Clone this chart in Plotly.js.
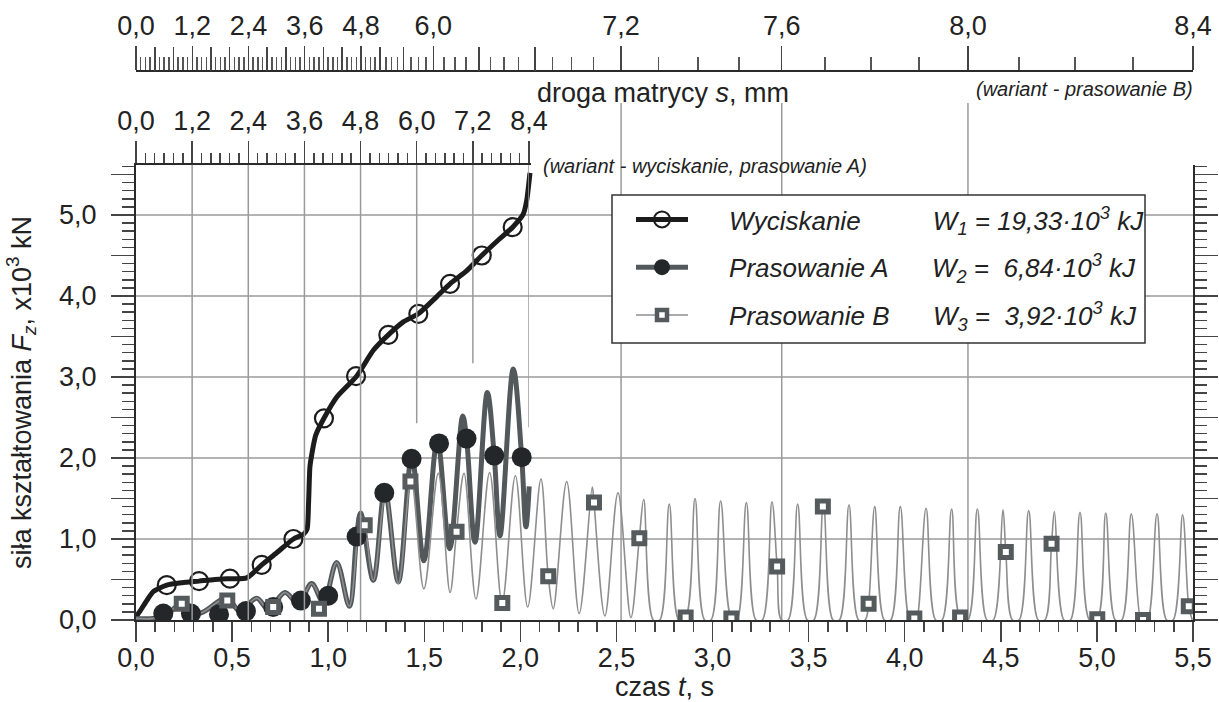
<!DOCTYPE html>
<html>
<head>
<meta charset="utf-8">
<script src="https://cdn.plot.ly/plotly-3.0.1.min.js"></script>
<style>html,body{margin:0;padding:0;background:#fff;}#chart{width:1219px;height:702px;}</style>
</head>
<body>
<div id="chart"></div>
<script>
// ---------------- DATA ----------------
// Wyciskanie – force curve (time s, force x10^3 kN)
const T_WYC = [0, 0.021, 0.056, 0.09, 0.16, 0.24, 0.328, 0.41, 0.489, 0.576, 0.654, 0.732, 0.819, 0.872, 0.890, 0.898, 0.905, 0.915, 0.935, 0.978, 1.044, 1.148, 1.235, 1.313, 1.391, 1.469, 1.564, 1.634, 1.72, 1.799, 1.894, 1.96, 2.015, 2.033, 2.05];
const F_WYC = [0.04, 0.11, 0.24, 0.35, 0.43, 0.46, 0.48, 0.50, 0.51, 0.52, 0.68, 0.83, 1.00, 1.06, 1.12, 1.45, 1.89, 2.05, 2.28, 2.49, 2.75, 3.01, 3.33, 3.52, 3.68, 3.78, 3.99, 4.15, 4.31, 4.50, 4.71, 4.85, 5.01, 5.18, 5.52];
const T_WYC_MARK = [0.16, 0.328, 0.489, 0.654, 0.819, 0.978, 1.145, 1.313, 1.469, 1.634, 1.799, 1.96];
const F_WYC_MARK = [0.43, 0.48, 0.51, 0.68, 1.00, 2.49, 3.01, 3.52, 3.78, 4.15, 4.50, 4.85];

// Prasowanie A
const T_A = [0, 0.09, 0.17, 0.246, 0.324, 0.472, 0.541, 0.628, 0.689, 0.775, 0.845, 0.914, 0.975, 1.044, 1.110, 1.148, 1.169, 1.235, 1.295, 1.365, 1.435, 1.498, 1.568, 1.632, 1.700, 1.720, 1.764, 1.828, 1.864, 1.894, 1.963, 2.007, 2.029, 2.046];
const F_A = [0.02, 0.02, 0.09, 0.22, 0.08, 0.27, 0.11, 0.27, 0.13, 0.34, 0.20, 0.45, 0.22, 0.71, 0.17, 1.03, 1.32, 0.49, 1.60, 0.47, 2.02, 0.73, 2.22, 0.88, 2.52, 2.24, 0.96, 2.81, 2.03, 1.04, 3.10, 2.01, 1.15, 1.65];
const T_A_MARK = [0.142, 0.286, 0.432, 0.572, 0.714, 0.858, 1.0, 1.148, 1.292, 1.434, 1.577, 1.72, 1.864, 2.007];
const F_A_MARK = [0.08, 0.08, 0.07, 0.11, 0.16, 0.24, 0.30, 1.03, 1.57, 1.99, 2.18, 2.24, 2.03, 2.01];

// Prasowanie B
const T_B = [0, 0.09, 0.17, 0.246, 0.324, 0.472, 0.541, 0.628, 0.689, 0.775, 0.845, 0.914, 0.975, 1.044, 1.110, 1.169, 1.19, 1.235, 1.299, 1.365, 1.432, 1.498, 1.573, 1.634, 1.668, 1.707, 1.769, 1.840, 1.905, 1.974, 2.038, 2.107, 2.145, 2.171, 2.241, 2.306, 2.374, 2.383, 2.44, 2.508, 2.575, 2.619,
  2.642, 2.692, 2.725, 2.775, 2.825, 2.86, 2.909, 2.959, 2.992, 3.042, 3.098, 3.126, 3.176, 3.226, 3.259, 3.309, 3.336, 3.359, 3.393, 3.443, 3.493, 3.527, 3.577, 3.627, 3.660, 3.710, 3.760, 3.794, 3.812, 3.844, 3.894, 3.927, 3.977, 4.027, 4.05, 4.061, 4.111, 4.161, 4.194, 4.244, 4.288, 4.328, 4.378, 4.428, 4.461, 4.511, 4.526, 4.561, 4.595, 4.645, 4.695, 4.729, 4.764, 4.779, 4.829, 4.862, 4.912, 4.962, 5.002, 5.046, 5.096, 5.129, 5.179, 5.229, 5.24, 5.263, 5.313, 5.363, 5.396, 5.446, 5.478, 5.496];
const F_B = [0.02, 0.02, 0.09, 0.22, 0.08, 0.27, 0.11, 0.27, 0.13, 0.34, 0.20, 0.45, 0.22, 0.71, 0.17, 1.28, 1.17, 0.49, 1.55, 0.45, 1.73, 0.385, 1.81, 0.34, 1.09, 1.81, 0.26, 1.82, 0.21, 1.78, 0.16, 1.74, 0.54, 0.14, 1.71, 0.08, 1.64, 1.45, 0.05, 1.57, 0.03, 1.01,
  1.49, 0, 0, 1.43, 0, 0.03, 1.50, 0, 0, 1.47, 0.02, 0, 1.45, 0, 0, 1.46, 0.66, 0, 0, 1.43, 0, 0, 1.42, 0, 0, 1.42, 0, 0, 0.20, 1.40, 0, 0, 1.40, 0, 0.02, 0, 1.38, 0, 0, 1.37, 0.03, 0, 1.37, 0, 0, 1.36, 0.84, 0, 0, 1.35, 0, 0, 0.94, 1.34, 0, 0, 1.33, 0, 0.01, 1.32, 0, 0, 1.31, 0, 0, 0, 1.31, 0, 0, 1.30, 0.17, 0];
const T_B_MARK = [0.238, 0.475, 0.714, 0.952, 1.19, 1.428, 1.668, 1.906, 2.145, 2.383, 2.619, 2.86, 3.098, 3.336, 3.574, 3.812, 4.05, 4.288, 4.526, 4.764, 5.002, 5.24, 5.478];
const F_B_MARK = [0.20, 0.24, 0.16, 0.14, 1.17, 1.71, 1.09, 0.21, 0.54, 1.45, 1.01, 0.03, 0.02, 0.66, 1.40, 0.20, 0.02, 0.03, 0.84, 0.94, 0.01, 0.00, 0.17];

// Legend texts
const NAMES = ['Wyciskanie', 'Prasowanie A', 'Prasowanie B'];
const WORK = ['W<sub>1</sub> = 19,33·10<sup>3</sup> kJ', 'W<sub>2</sub> =\u00a0\u00a06,84·10<sup>3</sup> kJ', 'W<sub>3</sub> =\u00a0\u00a03,92·10<sup>3</sup> kJ'];

// Axis ticks
const X_TICKS = [0, 0.5, 1, 1.5, 2, 2.5, 3, 3.5, 4, 4.5, 5, 5.5];
const Y_GRID = [1, 2, 3, 4, 5];
const A_TICKS = [0, 1.2, 2.4, 3.6, 4.8, 6.0, 7.2, 8.4];           // droga matrycy (A), mm
const A_GRID = [1.2, 2.4, 3.6, 4.8, 6.0, 7.2, 8.4];
const A_GRID_TOPCUT = [null, null, null, null, 2.43, 3.17, 2.38]; // where the gridline stops (F value), null = full
const B_LABELED = [0, 1.2, 2.4, 3.6, 4.8, 6.0, 7.2, 7.6, 8.0, 8.4];  // droga matrycy (B), mm
const B_GRID = [7.2, 7.6, 8.0];
// calibration of the non-linear B scale: mm -> position on the time axis (s)
const B_CAL_MM = [0, 4.8, 5.2, 5.6, 6.0, 6.1, 6.2, 6.3, 6.4, 6.5, 6.6, 6.7, 6.8, 6.9, 7.0, 7.1, 7.2, 7.3, 7.4, 7.5, 7.6, 7.7, 7.8, 7.9, 8.0, 8.1, 8.2, 8.3, 8.4];
const B_CAL_T = [0, 1.1707, 1.2696, 1.3909, 1.547, 1.6027, 1.66, 1.717, 1.785, 1.8456, 1.915, 1.991, 2.076, 2.168, 2.267, 2.380, 2.524, 2.72, 2.924, 3.138, 3.36, 3.585, 3.825, 4.074, 4.329, 4.595, 4.886, 5.188, 5.5];

// ---------------- helpers ----------------
const FONT = 'Liberation Sans, Arial, sans-serif';
const lbl = v => v.toFixed(1).replace('.', ',');
function mmToT(mm) {
  for (let i = 1; i < B_CAL_MM.length; i++) {
    if (mm <= B_CAL_MM[i] + 1e-9) {
      const f = (mm - B_CAL_MM[i - 1]) / (B_CAL_MM[i] - B_CAL_MM[i - 1]);
      return B_CAL_T[i - 1] + f * (B_CAL_T[i] - B_CAL_T[i - 1]);
    }
  }
  return B_CAL_T[B_CAL_T.length - 1];
}
const steps = (a, b, s) => { const o = []; const n = Math.round((b - a) / s); for (let i = 0; i <= n; i++) o.push(Math.round((a + i * s) * 1000) / 1000); return o; };
const notIn = (arr, ref) => arr.filter(v => !ref.some(t => Math.abs(t - v) < 1e-6));

const xMinor = notIn(steps(0, 5.5, 0.1), steps(0, 5.5, 0.5));
const yMinor = notIn(steps(0, 5.6, 0.1), steps(0, 5.5, 0.5));
const aMinor = notIn(steps(0, 8.4, 0.2), A_TICKS);
const bMajorMM = steps(0, 8.4, 0.4);
const bMinorMM = notIn(steps(0, 8.4, 0.1), bMajorMM);

// ---------------- geometry ----------------
const W = 1219, H = 702;
const M = {l: 136, r: 26, t: 71, b: 82};
const plotH = H - M.t - M.b;
const yTopPx = 165;
const yDomTop = (H - M.b - yTopPx) / plotH;
const yMax = (H - M.b - yTopPx) / 81;
const aDomRight = (529 - 136) / (W - M.l - M.r);
const px2py = py => (H - M.b - py) / plotH;
const px2px = px => (px - M.l) / (W - M.l - M.r);

const C_WYC = '#1c1c1c', C_A = '#53585b', C_AM = '#24272a', C_B = '#8e8e8e', C_BM = '#555a5d';

const nb = n => '\u00a0'.repeat(n);
const traces = [
  {x: T_WYC, y: F_WYC, mode: 'lines', line: {color: C_WYC, width: 5, shape: 'spline', smoothing: 0.6}, showlegend: false, hoverinfo: 'skip'},
  {x: T_A, y: F_A, mode: 'lines', line: {color: C_A, width: 5, shape: 'spline', smoothing: 1}, showlegend: false, hoverinfo: 'skip'},
  {x: T_B, y: F_B, mode: 'lines', line: {color: C_B, width: 1.6, shape: 'spline', smoothing: 1}, showlegend: false, hoverinfo: 'skip'},
  {x: T_A_MARK, y: F_A_MARK, mode: 'markers', marker: {symbol: 'circle', size: 20, color: C_AM}, showlegend: false, hoverinfo: 'skip'},
  {x: T_B_MARK, y: F_B_MARK, mode: 'markers', marker: {symbol: 'square', size: 11, color: '#ffffff', line: {color: C_BM, width: 5}}, showlegend: false, hoverinfo: 'skip'},
  {x: T_WYC_MARK, y: F_WYC_MARK, mode: 'markers', marker: {symbol: 'circle-open', size: 18, color: C_WYC, line: {color: C_WYC, width: 2.2}}, showlegend: false, hoverinfo: 'skip'},
  // legend entries (no data of their own; they also register the top overlay axes)
  {x: [null], y: [null], xaxis: 'x2', mode: 'lines+markers', name: nb(5) + NAMES[0] + nb(10) + WORK[0], legendgroup: 'g1',
   line: {color: C_WYC, width: 5}, marker: {symbol: 'circle-open', size: 16, color: C_WYC, line: {color: C_WYC, width: 2}}},
  {x: [null], y: [null], xaxis: 'x4', mode: 'lines+markers', name: nb(5) + NAMES[1] + nb(6) + WORK[1], legendgroup: 'g2',
   line: {color: C_A, width: 5}, marker: {symbol: 'circle', size: 16, color: C_AM}},
  {x: [null], y: [null], mode: 'lines+markers', name: nb(5) + NAMES[2] + nb(6) + WORK[2], legendgroup: 'g3',
   line: {color: C_B, width: 1.6}, marker: {symbol: 'square', size: 10, color: '#ffffff', line: {color: C_BM, width: 4.5}}}
];

const shapes = [];
Y_GRID.forEach(v => shapes.push({type: 'line', layer: 'below', xref: 'paper', yref: 'y', x0: 0, x1: 1, y0: v, y1: v, line: {color: '#9a9a9a', width: 1.5}}));
A_GRID.forEach((v, i) => shapes.push({type: 'line', layer: 'below', xref: 'x3', yref: 'y', x0: v, x1: v, y0: A_GRID_TOPCUT[i] === null ? 0 : A_GRID_TOPCUT[i], y1: yMax, line: {color: '#9a9a9a', width: 1.5}}));
B_GRID.forEach(v => shapes.push({type: 'line', layer: 'below', xref: 'x', yref: 'paper', x0: mmToT(v), x1: mmToT(v), y0: 0, y1: px2py(103), line: {color: '#9a9a9a', width: 1.5}}));
// legend frame
shapes.push({type: 'rect', layer: 'above', xref: 'paper', yref: 'paper', x0: px2px(612), x1: px2px(1145), y0: px2py(343), y1: px2py(195), fillcolor: '#ffffff', line: {color: '#333', width: 1.5}});

const tickFont = {family: FONT, size: 27, color: '#222'};
const axCommon = {showline: true, linecolor: '#2a2a2a', linewidth: 2, zeroline: false, showgrid: false, tickwidth: 1.5, tickcolor: '#444', tickfont: tickFont};
const layout = {
  width: W, height: H, margin: M,
  paper_bgcolor: '#fff', plot_bgcolor: 'rgba(0,0,0,0)',
  separators: ',.',
  showlegend: true,
  font: {family: FONT, color: '#222'},
  xaxis: Object.assign({}, axCommon, {
    domain: [0, 1], range: [0, 5.5], anchor: 'y', side: 'bottom',
    ticks: 'outside', tickmode: 'array', tickvals: X_TICKS, ticktext: X_TICKS.map(lbl),
    ticklen: 20, ticklabelstandoff: -7,
    minor: {ticks: 'outside', tickmode: 'array', tickvals: xMinor, ticklen: 10, tickwidth: 1.5, tickcolor: '#444', showgrid: false},
    title: {text: 'czas <i>t</i>, s', font: {family: FONT, size: 27, color: '#222'}, standoff: 10}
  }),
  yaxis: Object.assign({}, axCommon, {
    domain: [0, yDomTop], range: [0, yMax], anchor: 'x', mirror: 'ticks',
    ticks: 'outside', tickmode: 'linear', tick0: 0, dtick: 0.5, ticklabelstep: 2, tickformat: '.1f',
    ticklen: 23, ticklabelstandoff: 9,
    minor: {ticks: 'outside', tickmode: 'array', tickvals: yMinor, ticklen: 12, tickwidth: 1.5, tickcolor: '#444', showgrid: false},
    title: {text: 'siła kształtowania <i>F<sub>z</sub></i>, x10<sup>3</sup> kN', font: {family: FONT, size: 27, color: '#222'}, standoff: 20}
  }),
  // top scale B (non-linear, positioned on the time axis): labelled ticks
  xaxis2: Object.assign({}, axCommon, {
    overlaying: 'x', anchor: 'free', position: 1, side: 'top', domain: [0, 1], range: [0, 5.5],
    ticks: 'outside', tickmode: 'array', tickvals: B_LABELED.map(mmToT), ticktext: B_LABELED.map(lbl),
    ticklen: 24,
    minor: {ticks: 'outside', tickmode: 'array', tickvals: bMinorMM.map(mmToT), ticklen: 13, tickwidth: 1.5, tickcolor: '#555', showgrid: false}
  }),
  // top scale B: unlabelled 0.4 mm ticks
  xaxis4: Object.assign({}, axCommon, {
    overlaying: 'x', anchor: 'free', position: 1, side: 'top', domain: [0, 1], range: [0, 5.5],
    showline: false, showticklabels: false,
    ticks: 'outside', tickmode: 'array', tickvals: notIn(bMajorMM, B_LABELED).map(mmToT), ticklen: 24
  }),
  // scale A (linear)
  xaxis3: Object.assign({}, axCommon, {
    anchor: 'y', side: 'top', domain: [0, aDomRight], range: [0, 8.4],
    ticks: 'outside', tickmode: 'array', tickvals: A_TICKS, ticktext: A_TICKS.map(lbl),
    ticklen: 22,
    minor: {ticks: 'outside', tickmode: 'array', tickvals: aMinor, ticklen: 10, tickwidth: 1.5, tickcolor: '#444', showgrid: false}
  }),
  legend: {
    x: px2px(631), y: px2py(196), xanchor: 'left', yanchor: 'top',
    bgcolor: 'rgba(0,0,0,0)', borderwidth: 0,
    font: {family: FONT, size: 26, color: '#222', style: 'italic'},
    tracegroupgap: 11, itemwidth: 52, traceorder: 'grouped'
  },
  shapes: shapes,
  annotations: [
    {xref: 'paper', yref: 'paper', x: px2px(663), y: px2py(93), text: 'droga matrycy <i>s</i>, mm', showarrow: false, xanchor: 'center', yanchor: 'middle', font: {family: FONT, size: 27, color: '#222'}},
    {xref: 'paper', yref: 'paper', x: px2px(1084), y: px2py(89), text: '<i>(wariant - prasowanie B)</i>', showarrow: false, xanchor: 'center', yanchor: 'middle', font: {family: FONT, size: 20, color: '#222'}},
    {xref: 'paper', yref: 'paper', x: px2px(541), y: px2py(166), text: '<i>(wariant - wyciskanie, prasowanie A)</i>', showarrow: false, xanchor: 'left', yanchor: 'middle', font: {family: FONT, size: 20, color: '#222'}}
  ]
};

Plotly.newPlot('chart', traces, layout, {displayModeBar: false, staticPlot: true});
</script>
</body>
</html>
